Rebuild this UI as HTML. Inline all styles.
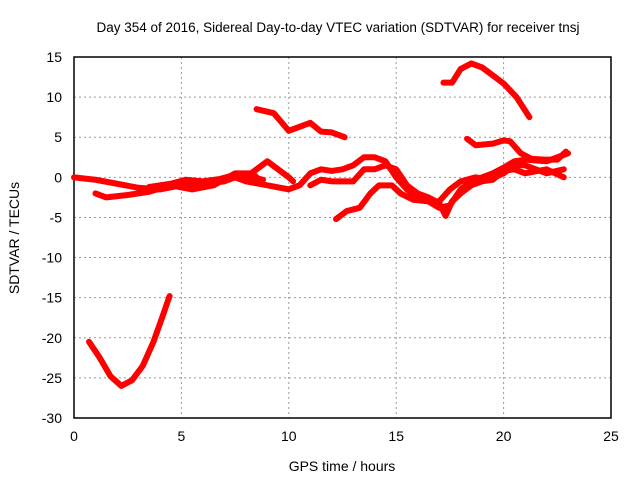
<!DOCTYPE html>
<html><head><meta charset="utf-8"><style>
body{margin:0;background:#fff;}
svg{display:block;font-family:"Liberation Sans",sans-serif;}
</style></head><body>
<svg id="chart" width="640" height="480">
<text x="338" y="32" text-anchor="middle" font-size="13.5">Day 354 of 2016, Sidereal Day-to-day VTEC variation (SDTVAR) for receiver tnsj</text>
<g id="grid"></g>
<g id="axes"></g>
<g id="series"></g>
<text x="342" y="471" text-anchor="middle" font-size="14">GPS time / hours</text>
<text transform="translate(19,238) rotate(-90)" text-anchor="middle" font-size="14">SDTVAR / TECUs</text>
</svg>
<script>
const xTicks=[0,5,10,15,20,25];
const yTicks=[15,10,5,0,-5,-10,-15,-20,-25,-30];
const arcA=[[0.7,-20.5],[1.2,-22.5],[1.7,-24.8],[2.2,-26],[2.7,-25.3],[3.2,-23.5],[3.7,-20.5],[4.1,-17.5],[4.45,-14.8]];
const arcB=[[8.5,8.5],[9.3,8],[10,5.8],[10.5,6.3],[11,6.8],[11.5,5.7],[12,5.6],[12.6,5]];
const arcC=[[17.2,11.8],[17.6,11.8],[18,13.5],[18.5,14.2],[19,13.7],[19.5,12.7],[20,11.7],[20.6,10],[21.2,7.5]];
const arcD=[[18.3,4.8],[18.7,4],[19.5,4.2],[20,4.6],[20.3,4.5],[20.8,3],[21.3,2.3],[22,2.2],[22.5,2.2],[22.9,3.2]];
const arcE=[[12.2,-5.2],[12.7,-4.2],[13.3,-3.8],[13.8,-2],[14.2,-1],[14.8,-1],[15.2,-2],[15.8,-2.8],[16.5,-3],[17,-3],[17.5,-1.5],[18,-0.5],[18.7,0],[19.3,-0.3],[20,0.5],[20.5,1.5],[21,1.5],[22,0.5],[22.8,1]];
const arcF=[[0,0],[1,-0.3],[2,-0.8],[3,-1.3],[4,-1.5],[5,-1],[6,-0.8],[7,-0.5],[7.5,0],[8,-0.5],[9,-1],[10,-1.5],[10.5,-1],[11,0.5],[11.5,1],[12,0.8],[12.5,1],[13,1.5],[13.5,2.5],[14,2.5],[14.5,2],[15,0],[15.5,-1.5],[16,-2.5],[16.5,-3],[17,-3.8],[17.5,-3.5],[18,-1.5],[18.5,-0.5],[19,0],[19.5,0.5],[20,1.2],[20.5,2],[21,2.2],[22,2],[22.5,2.5],[23,3]];
const arcG=[[1,-2],[1.5,-2.5],[2.5,-2.2],[3.5,-1.8],[4.5,-1],[5.5,-1.5],[6.5,-1],[7.5,0.5],[8.3,0.5],[8.7,-0.5]];
const arcH=[[8,0],[8.5,1],[9,2],[9.5,1],[10,0],[10.2,-0.5]];
const arcI=[[11,-1],[11.5,-0.3],[12,-0.5],[13,-0.5],[13.5,1],[14,1],[14.5,1.5],[15,1],[15.5,-1],[16,-2],[16.5,-2.5],[17,-3.2],[17.3,-4.8],[17.6,-3],[18,-2],[18.5,-1],[19,-0.5],[19.5,-0.3],[20,0.8],[20.5,1],[21,0.5],[22,1],[22.8,0]];
const arcJ=[[3.5,-1.2],[4.5,-0.8],[5.2,-0.3],[6,-0.5],[6.8,-0.2],[7.5,0.3],[8,0.2],[8.8,-0.3]];
const allArcs=[arcA,arcB,arcC,arcD,arcE,arcF,arcG,arcH,arcI,arcJ];
const NS="http://www.w3.org/2000/svg";
const L=74,R=611,T=57,B=418;
const xs=v=>L+(v-0)/25*(R-L);
const ys=v=>T+(15-v)/45*(B-T);
const grid=document.getElementById('grid'),axes=document.getElementById('axes'),ser=document.getElementById('series');
function mk(tag,attrs,parent){const e=document.createElementNS(NS,tag);for(const k in attrs)e.setAttribute(k,attrs[k]);parent.appendChild(e);return e;}
xTicks.forEach(t=>{
  if(t>0&&t<25){const g=mk('line',{x1:xs(t),x2:xs(t),y1:T,y2:B,stroke:'#999','stroke-dasharray':'2,3'},grid);
  
  }
  const tx=mk('text',{x:xs(t),y:B+23,'text-anchor':'middle','font-size':'14'},axes);tx.textContent=t;
  
  
});
yTicks.forEach(t=>{
  if(t<15&&t>-30){const g=mk('line',{x1:L,x2:R,y1:ys(t),y2:ys(t),stroke:'#999','stroke-dasharray':'2,3'},grid);
  
  }
  const tx=mk('text',{x:L-12,y:ys(t)+5,'text-anchor':'end','font-size':'14'},axes);tx.textContent=t;
  
  
});
const fr=mk('rect',{x:L,y:T,width:R-L,height:B-T,fill:'none',stroke:'#000','stroke-width':1.5},axes);


allArcs.forEach(a=>{
  const p=mk('polyline',{points:a.map(d=>xs(d[0])+','+ys(d[1])).join(' '),fill:'none',stroke:'#ff0000','stroke-width':6,'stroke-linejoin':'round','stroke-linecap':'round'},ser);
  
  
});
</script>
</body></html>
